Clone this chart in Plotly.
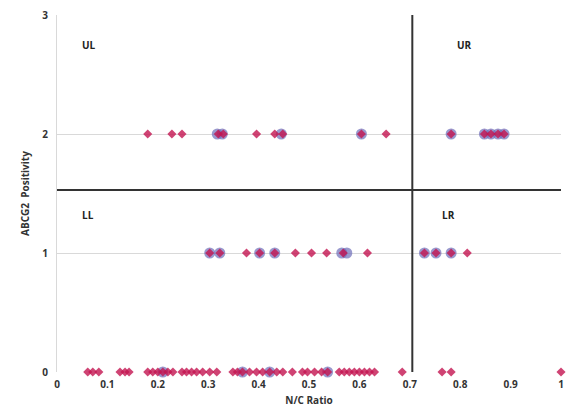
import plotly.graph_objects as go

# Red diamond series
diamond_x = [0.180, 0.228, 0.248, 0.320, 0.330, 0.396, 0.432, 0.448, 0.604, 0.653,
             0.782, 0.848, 0.861, 0.875, 0.887,
             0.303, 0.323, 0.376, 0.402, 0.432, 0.473, 0.505, 0.535, 0.568, 0.616,
             0.729, 0.752, 0.782, 0.814,
             0.061, 0.071, 0.083, 0.125, 0.135, 0.143, 0.180, 0.190, 0.200, 0.210,
             0.220, 0.230, 0.248, 0.257, 0.267, 0.277, 0.289, 0.303, 0.317, 0.349,
             0.358, 0.368, 0.382, 0.396, 0.408, 0.422, 0.436, 0.448, 0.467, 0.487,
             0.497, 0.511, 0.525, 0.537, 0.560, 0.570, 0.580, 0.590, 0.600, 0.610,
             0.620, 0.630, 0.685, 0.764, 0.782, 1.000]
diamond_y = [2] * 15 + [1] * 14 + [0] * 46

# Blue circle series
circle_x = [0.318, 0.328, 0.445, 0.604, 0.782, 0.848, 0.861, 0.875, 0.887,
            0.303, 0.323, 0.402, 0.432, 0.565, 0.575, 0.729, 0.752, 0.782,
            0.210, 0.368, 0.422, 0.537]
circle_y = [2] * 9 + [1] * 9 + [0] * 4

x_ticks = [0, 0.1, 0.2, 0.3, 0.4, 0.5, 0.6, 0.7, 0.8, 0.9, 1]
x_tick_labels = ["0", "0.1", "0.2", "0.3", "0.4", "0.5", "0.6", "0.7", "0.8", "0.9", "1"]
y_ticks = [0, 1, 2, 3]

x_cut = 0.705
y_cut = 1.53
quadrants = ["UL", "UR", "LL", "LR"]
quad_x = [0.045, 0.79, 0.045, 0.76]
quad_y = [2.75, 2.75, 1.32, 1.32]

font_family = "Open Sans, Liberation Sans, sans-serif"

fig = go.Figure()
fig.add_trace(go.Scatter(
    x=circle_x, y=circle_y, mode="markers", cliponaxis=False,
    marker=dict(symbol="circle", size=11, color="rgba(110,110,185,0.7)",
                line=dict(width=0)),
    showlegend=False, hoverinfo="x+y"))
fig.add_trace(go.Scatter(
    x=diamond_x, y=diamond_y, mode="markers", cliponaxis=False,
    marker=dict(symbol="diamond", size=7, color="rgba(195,20,80,0.8)",
                line=dict(width=0)),
    showlegend=False, hoverinfo="x+y"))

fig.add_shape(type="line", x0=x_cut, x1=x_cut, y0=0, y1=3, xref="x", yref="y",
              line=dict(color="#333333", width=2))
fig.add_shape(type="line", x0=0, x1=1, y0=y_cut, y1=y_cut, xref="x", yref="y",
              line=dict(color="#333333", width=2))

for t, qx, qy in zip(quadrants, quad_x, quad_y):
    fig.add_annotation(x=qx, y=qy, text="<b>" + t + "</b>", showarrow=False,
                       xanchor="left", font=dict(size=10, color="#222222", family=font_family))

fig.update_layout(
    width=566, height=412,
    margin=dict(l=57, r=5, t=15, b=40, autoexpand=False),
    plot_bgcolor="white", paper_bgcolor="white",
    font=dict(family=font_family, size=10, color="#333333"),
    xaxis=dict(range=[0, 1], tickvals=x_ticks, ticktext=["<b>" + s + "</b>" for s in x_tick_labels],
               showgrid=False, zeroline=False, showline=False, ticks="", automargin=False,
               ticklabelstandoff=5,
               title=dict(text="<b>N/C Ratio</b>", font=dict(size=10), standoff=6)),
    yaxis=dict(range=[0, 3], tickvals=y_ticks, ticktext=["<b>%d</b>" % v for v in y_ticks],
               showgrid=True, gridcolor="#d9d9d9", gridwidth=1, zeroline=False,
               showline=True, linecolor="#d9d9d9", ticks="", automargin=False,
               ticklabelstandoff=6,
               title=dict(text="<b>ABCG2  Positivity</b>", font=dict(size=10), standoff=10)),
)

fig.write_html("out.html", config={"displayModeBar": False},
               post_script="document.body.style.margin='0';")
